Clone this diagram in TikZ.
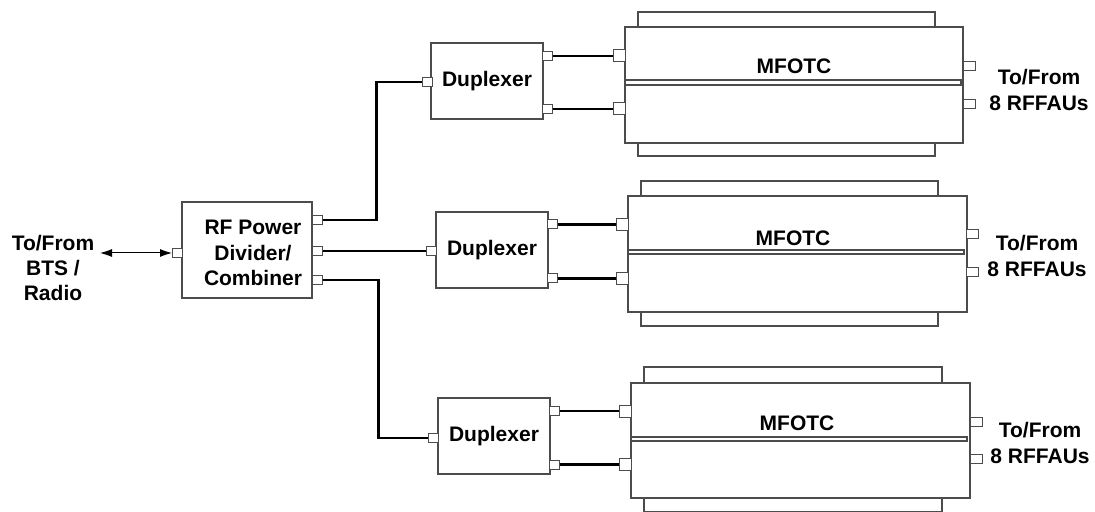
\documentclass[tikz,border=0pt]{standalone}
\usepackage{fontspec}
\setmainfont{Liberation Sans}
\usetikzlibrary{arrows.meta, positioning}

\begin{document}
\begin{tikzpicture}[x=0.5pt, y=-0.5pt, >={Latex[length=6pt, width=4pt]},
  unit/.style={rectangle, draw=black!70, line width=0.6pt, fill=white, inner sep=0pt, align=center},
  port/.style={rectangle, draw=black!70, line width=0.5pt, fill=white, inner sep=0pt, minimum width=5pt, minimum height=4.5pt},
  bigport/.style={port, minimum width=6pt, minimum height=6pt},
  tab/.style={draw=black!70, line width=0.6pt, fill=white},
  wire/.style={line width=1.1pt},
  txt/.style={align=center, font=\bfseries\fontsize{10.5}{12.7}\selectfont}]

\useasboundingbox (0,0) rectangle (1095,512);

% splitter and source side
\node[unit, minimum width=65pt, minimum height=48pt] (rf) at (247,250) {};
\node[txt] (rftxt) at (253,253) {RF Power\\Divider/\\Combiner};
\node[port] (rfin) at (177.5,253) {};
\node[port] (rfp1) at (317,220) {};
\node[port] (rfp2) at (317,251) {};
\node[port] (rfp3) at (317,280) {};
\node[txt] (bts) at (53,268) {To/From\\BTS /\\Radio};
\coordinate (btsend) at (100,253);
\draw[<->, line width=0.5pt] (btsend) -- (rfin.west);

% upper branch
\node[unit, txt, minimum width=56pt, minimum height=38pt] (dupA) at (487,81) {Duplexer};
\node[port] (dupAin) at (427,82) {};
\node[port] (dupAo1) at (547.5,56) {};
\node[port] (dupAo2) at (547.5,109) {};
\draw[tab] (638,12) rectangle (935,27);
\draw[tab] (638,143) rectangle (935,156);
\node[unit, minimum width=169pt, minimum height=58pt] (mfA) at (794,85) {};
\draw[tab] (625,80) rectangle (961,85);
\node[txt] (mfAtxt) at (794,66) {MFOTC};
\node[bigport] (mfAi1) at (619,56) {};
\node[bigport] (mfAi2) at (619,109) {};
\node[port, minimum width=6pt] (mfAo1) at (969,66) {};
\node[port, minimum width=6pt] (mfAo2) at (969,104) {};
\node[txt] (rfauA) at (1039,90) {To/From\\8 RFFAUs};

% middle branch
\node[unit, txt, minimum width=56pt, minimum height=38pt] (dupB) at (492,250) {Duplexer};
\node[port] (dupBin) at (431.5,251) {};
\node[port] (dupBo1) at (552.5,224.5) {};
\node[port] (dupBo2) at (552.5,278.5) {};
\draw[tab] (641,181) rectangle (938,196);
\draw[tab] (641,312) rectangle (938,326);
\node[unit, minimum width=169.5pt, minimum height=58pt] (mfB) at (797.5,254) {};
\draw[tab] (628,250) rectangle (964,254);
\node[txt] (mfBtxt) at (793,238) {MFOTC};
\node[bigport] (mfBi1) at (622,224.5) {};
\node[bigport] (mfBi2) at (622,278.5) {};
\node[port, minimum width=6pt] (mfBo1) at (972,234) {};
\node[port, minimum width=6pt] (mfBo2) at (972,272) {};
\node[txt] (rfauB) at (1037,256) {To/From\\8 RFFAUs};

% lower branch
\node[unit, txt, minimum width=56pt, minimum height=38pt] (dupC) at (494,436) {Duplexer};
\node[port] (dupCin) at (433,438) {};
\node[port] (dupCo1) at (554,411) {};
\node[port] (dupCo2) at (554,464.5) {};
\draw[tab] (644,367) rectangle (942,383);
\draw[tab] (644,498) rectangle (942,511.5);
\node[unit, minimum width=169.5pt, minimum height=57.5pt] (mfC) at (800.5,440.5) {};
\draw[tab] (631,437) rectangle (967,441);
\node[txt] (mfCtxt) at (797,423) {MFOTC};
\node[bigport] (mfCi1) at (625,411) {};
\node[bigport] (mfCi2) at (625,464.5) {};
\node[port, minimum width=6pt] (mfCo1) at (976,422) {};
\node[port, minimum width=6pt] (mfCo2) at (976,459) {};
\node[txt] (rfauC) at (1040,443) {To/From\\8 RFFAUs};

% cabling
\draw[wire] (rfp1.east) -- ++(54,0) |- (dupAin.west);
\draw[wire] (rfp2.east) -- (dupBin.west);
\draw[wire] (rfp3.east) -- ++(56,0) |- (dupCin.west);
\draw[wire] (dupAo1.east) -- (mfAi1.west);
\draw[wire] (dupAo2.east) -- (mfAi2.west);
\draw[wire] (dupBo1.east) -- (mfBi1.west);
\draw[wire] (dupBo2.east) -- (mfBi2.west);
\draw[wire] (dupCo1.east) -- (mfCi1.west);
\draw[wire] (dupCo2.east) -- (mfCi2.west);

\end{tikzpicture}
\end{document}
